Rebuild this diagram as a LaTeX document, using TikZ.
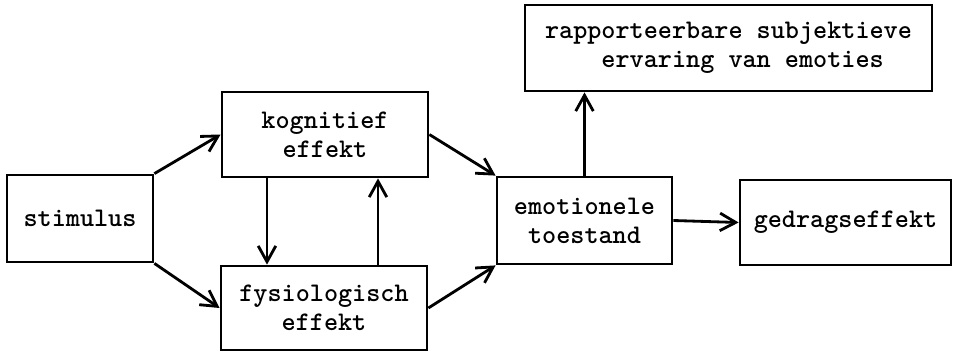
\documentclass[tikz,border=0pt]{standalone}
\usepackage{fontspec}
\usetikzlibrary{arrows.meta}

\tikzset{
  blok/.style={draw, line width=1.6pt, align=center, inner sep=0pt,
    font=\ttfamily\bfseries\fontsize{15.3}{16.5}\selectfont},
  pijl/.style={line width=1.6pt, -{Straight Barb[length=9pt, width=10pt, line width=1.6pt]}}
}

\begin{document}
\begin{tikzpicture}[x=0.02cm, y=-0.02cm]
  \useasboundingbox (0,0) rectangle (954,352);

  % de blokken
  \node[blok, minimum width=2.92cm, minimum height=1.74cm] (stim) at (80,218.5) {stimulus};
  \node[blok, minimum width=4.12cm, minimum height=1.70cm] (kogn) at (325,134.5) {kognitief\\effekt};
  \node[blok, minimum width=4.12cm, minimum height=1.68cm] (fysio) at (324,308) {fysiologisch\\effekt};
  \node[blok, minimum width=3.50cm, minimum height=1.74cm] (emot) at (584.5,220.5) {emotionele\\toestand};
  \node[blok, minimum width=4.22cm, minimum height=1.70cm] (gedrag) at (845.5,222.5) {gedragseffekt};
  \node[blok, minimum width=8.14cm, minimum height=1.72cm] (rapp) at (728.5,48)
    {rapporteerbare subjektieve\\\hspace*{2.1em}ervaring van emoties\hspace*{1.05em}};

  % hulppunten voor de verticale pijlen
  \coordinate (neer) at (267,0);
  \coordinate (op) at (378,0);

  % de pijlen
  \draw[pijl] (stim.north east) -- (kogn.west);
  \draw[pijl] (stim.south east) -- (fysio.west);
  \draw[pijl] (kogn.south -| neer) -- (fysio.north -| neer);
  \draw[pijl] (fysio.north -| op) -- (kogn.south -| op);
  \draw[pijl] (kogn.east) -- (emot.north west);
  \draw[pijl] (fysio.east) -- (emot.south west);
  \draw[pijl] (emot.north) -- (emot.north |- rapp.south);
  \draw[pijl] (emot.east) -- (gedrag.west);
\end{tikzpicture}
\end{document}
